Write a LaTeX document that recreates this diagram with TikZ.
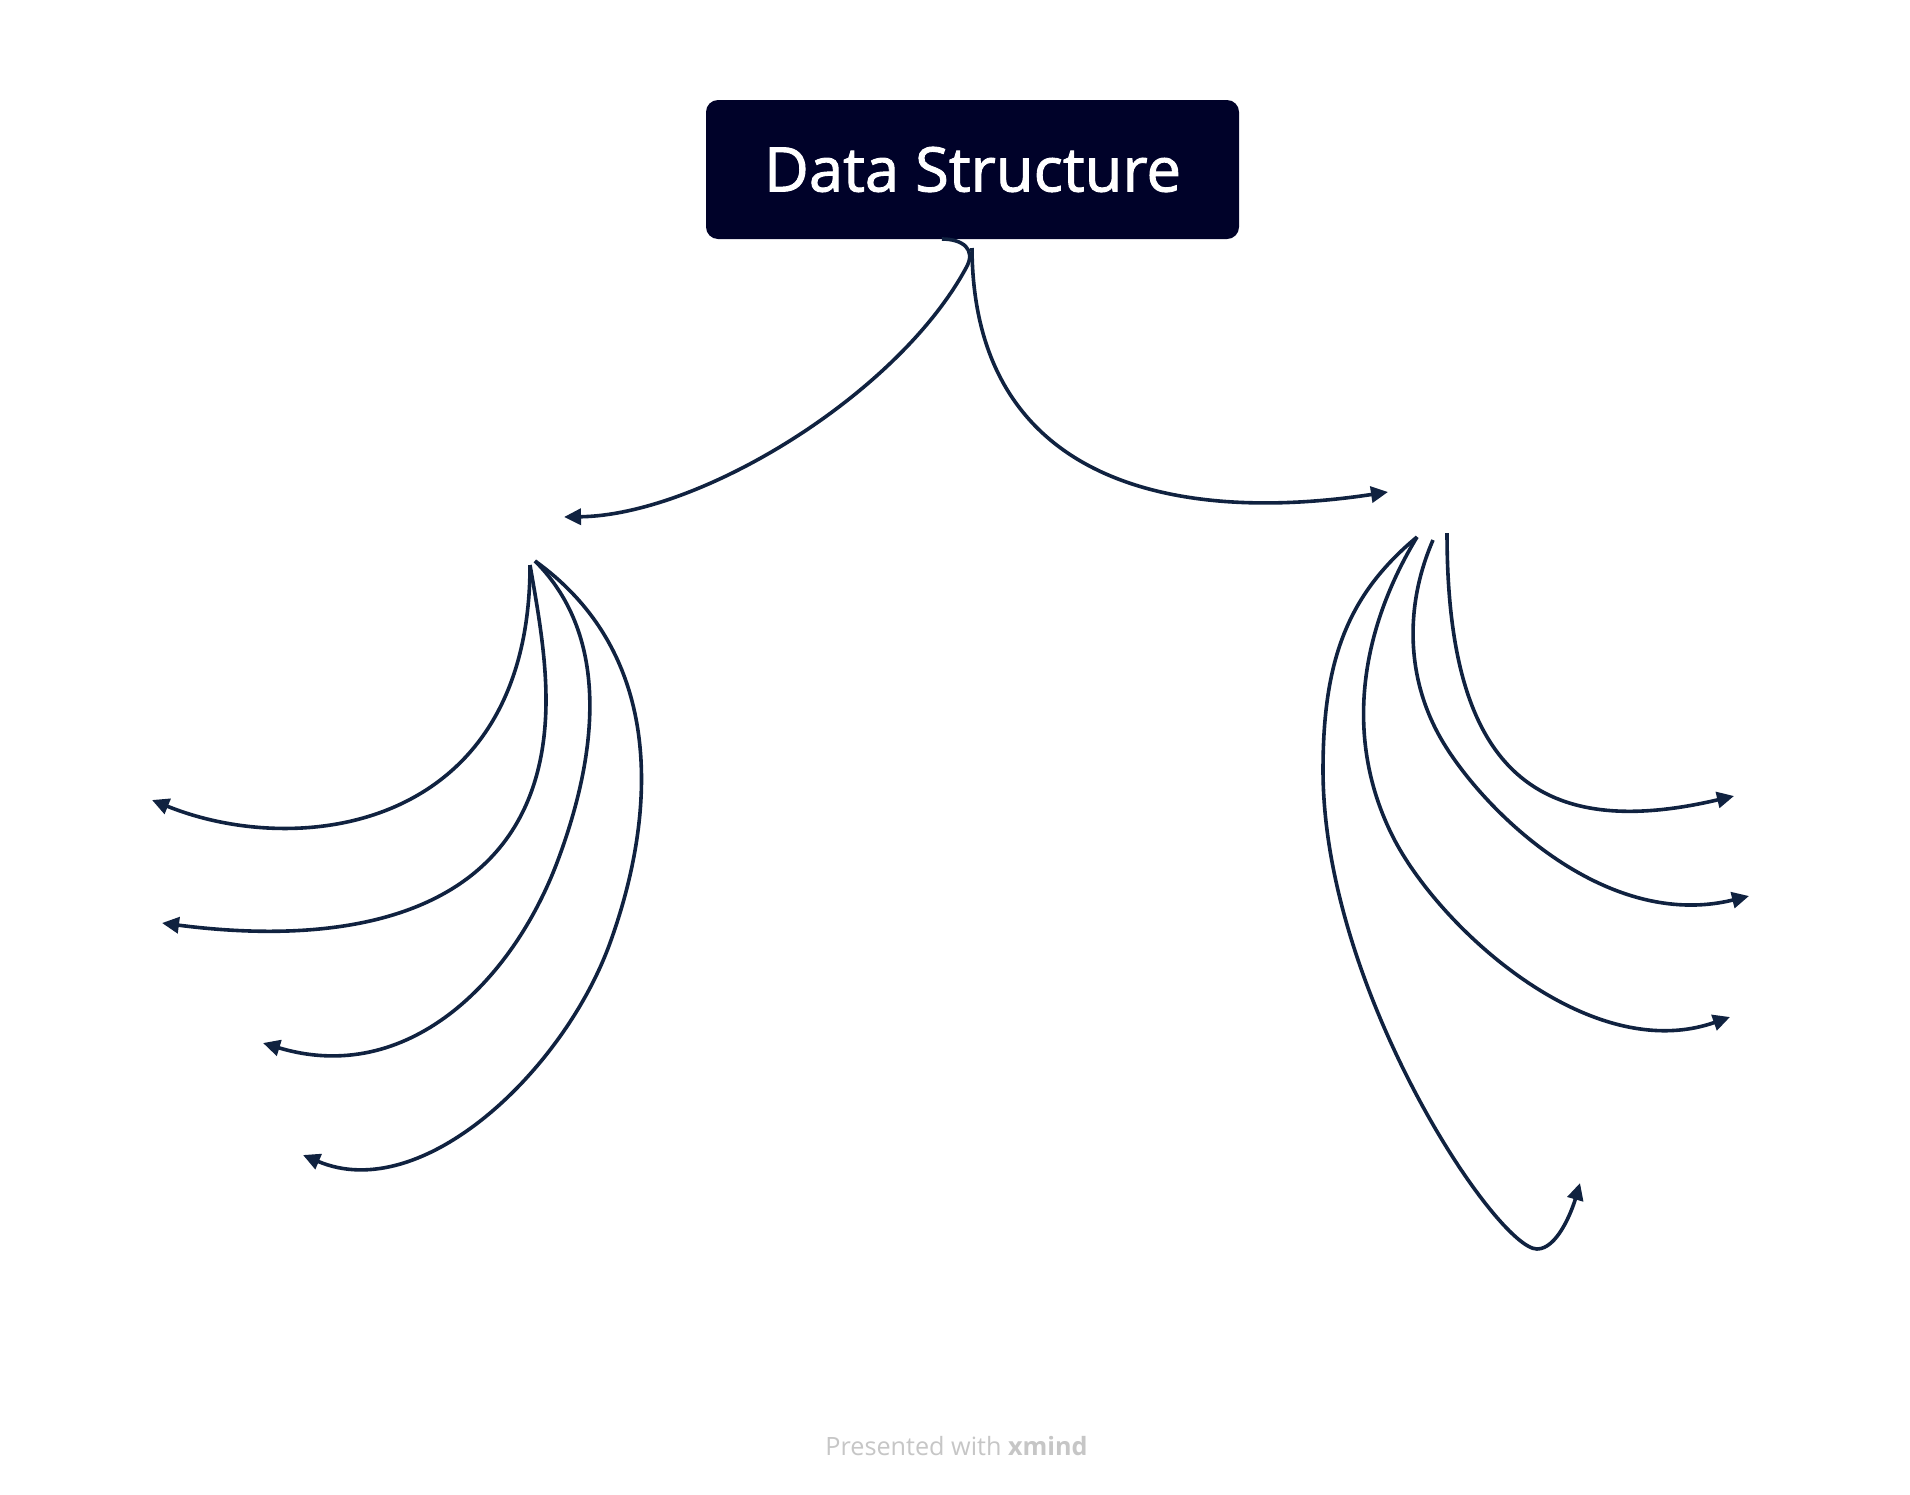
\documentclass[tikz,border=0pt]{standalone}
\usepackage{fontspec}
\setmainfont{Open Sans}
\newfontfamily\titlefont[FakeBold=1.5]{Open Sans}
\usetikzlibrary{arrows.meta}
\definecolor{boxfill}{RGB}{0,2,41}
\definecolor{linecol}{RGB}{16,34,64}
\definecolor{footgray}{RGB}{198,198,198}
\begin{document}
\begin{tikzpicture}[x=0.5pt,y=-0.5pt,
  rootbox/.style={fill=boxfill, text=white, rounded corners=6pt, minimum width=266.5pt,
    minimum height=69.5pt, inner sep=0pt, font=\titlefont\fontsize{30.8}{32}\selectfont},
  line/.style={draw=linecol, line width=1.8pt},
  conn/.style={line, -{Triangle[length=8.5pt,width=8pt]}}]
\useasboundingbox[fill=white] (0,0) rectangle (1910,1494);

\node[rootbox] (root) at (972.5,169.5) {Data Structure};

% connector ends
\coordinate (rootL) at (942,239);
\coordinate (curlE) at (966,268);
\coordinate (rootR) at (972,248);
\coordinate (tipL) at (564,517);
\coordinate (tipR) at (1388,492);
\coordinate (hubLa) at (530,565);
\coordinate (hubLb) at (535,561);
\coordinate (hubRa) at (1447,533);
\coordinate (hubRb) at (1433,540);
\coordinate (hubRc) at (1417,537);
\coordinate (tL1) at (152,800);
\coordinate (tL2) at (162,923);
\coordinate (tL3) at (263,1043);
\coordinate (tL4) at (303,1155);
\coordinate (tR1) at (1734,796);
\coordinate (tR2) at (1749,896);
\coordinate (tR3) at (1730,1017);
\coordinate (tR4) at (1580,1183);

% main branches
\draw[conn] (rootL) .. controls (962,239) and (977,249) .. (curlE)
  .. controls (897,395) and (700,515) .. (tipL);
\draw[conn] (rootR) .. controls (973,480) and (1170,525) .. (tipR);

% left children
\draw[conn] (hubLa) .. controls (530,830) and (300,860) .. (tL1);
\draw[conn] (hubLa) .. controls (537.7,609) and (546,655) .. (546,700)
  .. controls (546,910) and (362,949) .. (tL2);
\draw[conn] (hubLb) .. controls (612,638) and (596.5,756.6) .. (558,860)
  .. controls (512.5,982.2) and (407,1086.5) .. (tL3);
\draw[conn] (hubLb) .. controls (664.6,653.8) and (657.6,811.4) .. (610,943)
  .. controls (564.1,1069.9) and (422.6,1205.7) .. (tL4);

% right children
\draw[conn] (hubRa) .. controls (1447,763) and (1530,844) .. (tR1);
\draw[conn] (hubRb) .. controls (1405,604.4) and (1405.7,676.1) .. (1440,737)
  .. controls (1479.2,806.6) and (1603.5,932) .. (tR2);
\draw[conn] (hubRc) .. controls (1359.7,631.5) and (1343.5,739.1) .. (1393,837)
  .. controls (1438,926) and (1589,1066.5) .. (tR3);
\draw[conn] (hubRc) .. controls (1347.7,594.6) and (1323,660) .. (1323,770)
  .. controls (1323,990) and (1497,1249) .. (1537,1249)
  .. controls (1557,1249) and (1571.6,1211.8) .. (tR4);

\node[font=\fontsize{12.6}{15}\selectfont, text=footgray, anchor=base, inner sep=0pt]
  (foot) at (956.5,1455) {Presented with \textbf{xmind}};
\end{tikzpicture}
\end{document}
